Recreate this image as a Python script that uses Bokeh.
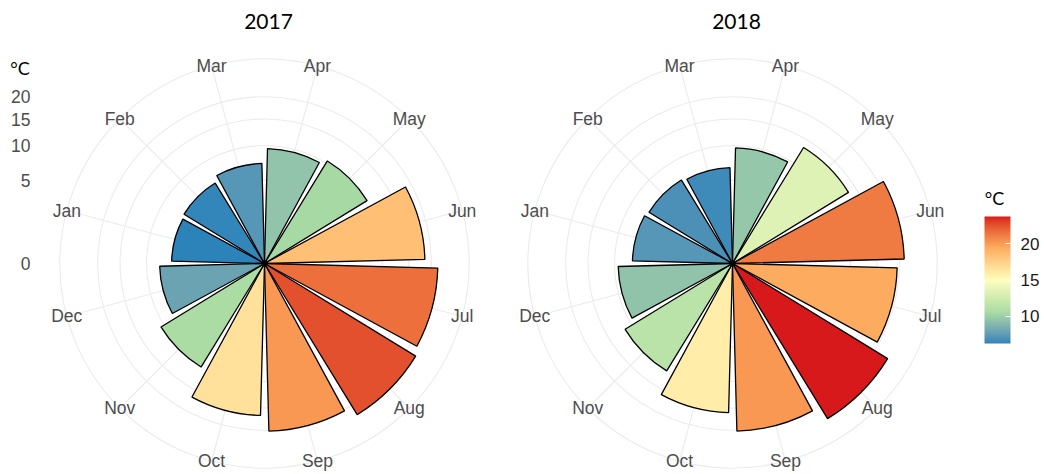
import math
from bokeh.plotting import figure
from bokeh.models import (ColumnDataSource, LinearColorMapper, ColorBar, FixedTicker,
                          Label, Range1d)
from bokeh.layouts import row
from bokeh.core.properties import value
from bokeh.transform import transform
from bokeh.embed import file_html
from bokeh.resources import INLINE

# ---------------- data ----------------
months = ["Jan", "Feb", "Mar", "Apr", "May", "Jun",
          "Jul", "Aug", "Sep", "Oct", "Nov", "Dec"]
temp_2017 = [6.2, 6.4, 7.2, 9.5, 10.4, 18.5, 21.6, 22.6, 20.2, 16.6, 10.6, 7.9]
temp_2018 = [7.2, 6.9, 6.6, 9.6, 13.3, 21.2, 19.5, 23.8, 20.2, 16.0, 11.4, 9.4]
years = ["2017", "2018"]
axis_ticks = [0, 5, 10, 15, 20]
legend_ticks = [10, 15, 20]
palette_stops = ["#2B83BA", "#ABDDA4", "#FFFFBF", "#FDAE61", "#D7191C"]

# ---------------- palette (Lab interpolation like ggplot) ----------------
def hex_to_rgb(h):
    h = h.lstrip("#")
    return [int(h[i:i + 2], 16) / 255.0 for i in (0, 2, 4)]

def srgb_to_lin(c):
    return c / 12.92 if c <= 0.04045 else ((c + 0.055) / 1.055) ** 2.4

def lin_to_srgb(c):
    c = max(0.0, min(1.0, c))
    return 12.92 * c if c <= 0.0031308 else 1.055 * c ** (1 / 2.4) - 0.055

WX, WY, WZ = 0.95047, 1.0, 1.08883

def rgb_to_lab(rgb):
    r, g, b = [srgb_to_lin(c) for c in rgb]
    X = 0.4124 * r + 0.3576 * g + 0.1805 * b
    Y = 0.2126 * r + 0.7152 * g + 0.0722 * b
    Z = 0.0193 * r + 0.1192 * g + 0.9505 * b
    def f(t):
        return t ** (1 / 3) if t > 0.008856 else 7.787 * t + 16 / 116
    fx, fy, fz = f(X / WX), f(Y / WY), f(Z / WZ)
    return [116 * fy - 16, 500 * (fx - fy), 200 * (fy - fz)]

def lab_to_hex(lab):
    L, a, bb = lab
    fy = (L + 16) / 116
    fx = fy + a / 500
    fz = fy - bb / 200
    def finv(t):
        return t ** 3 if t ** 3 > 0.008856 else (t - 16 / 116) / 7.787
    X, Y, Z = WX * finv(fx), WY * finv(fy), WZ * finv(fz)
    r = 3.2406 * X - 1.5372 * Y - 0.4986 * Z
    g = -0.9689 * X + 1.8758 * Y + 0.0415 * Z
    b = 0.0557 * X - 0.2040 * Y + 1.0570 * Z
    return "#%02x%02x%02x" % tuple(int(round(lin_to_srgb(c) * 255)) for c in (r, g, b))

labs = [rgb_to_lab(hex_to_rgb(h)) for h in palette_stops]
palette = []
N = 256
for i in range(N):
    t = i / (N - 1) * (len(labs) - 1)
    k = min(int(t), len(labs) - 2)
    u = t - k
    palette.append(lab_to_hex([labs[k][j] + (labs[k + 1][j] - labs[k][j]) * u for j in range(3)]))

all_vals = temp_2017 + temp_2018
mapper = LinearColorMapper(palette=palette, low=min(all_vals), high=max(all_vals))

# ---------------- geometry ----------------
PX = 37.3                 # pixels per sqrt-unit
H = 474
CY = 263                  # centre row (px from top)
R_OUT = 1.125 * math.sqrt(max(all_vals))   # outer ring (ggplot 0.45 / 0.40)
WIDTH_FRAC = 0.9
GRID = "#EBEBEB"
FONT = "Liberation Sans"
LBL = "17.5px"


def month_angle(i):
    return math.radians(165 - 30 * i)


def make_fig(x0, w, cx):
    p = figure(width=w, height=H, output_backend="svg", toolbar_location=None,
               x_axis_location=None, y_axis_location=None,
               x_range=Range1d((x0 - cx) / PX, (x0 + w - cx) / PX),
               y_range=Range1d(-(H - CY) / PX, CY / PX),
               min_border_left=0, min_border_right=0, min_border_top=0, min_border_bottom=0)
    p.outline_line_color = None
    p.grid.visible = False
    p.xgrid.grid_line_color = None
    p.ygrid.grid_line_color = None
    p.background_fill_color = "white"
    p.border_fill_color = "white"
    return p


def polar_panel(p, temps, year):
    p.circle(x=0, y=0, radius=[math.sqrt(v) for v in axis_ticks[1:]] + [R_OUT],
             fill_color=None, line_color=GRID, line_width=1.1)
    angs = [month_angle(i) for i in range(12)]
    p.segment(x0=[0] * 12, y0=[0] * 12,
              x1=[R_OUT * math.cos(a) for a in angs],
              y1=[R_OUT * math.sin(a) for a in angs],
              line_color=GRID, line_width=1.1)
    half = math.radians(30 * WIDTH_FRAC / 2)
    src = ColumnDataSource(dict(
        month=months, temp=temps,
        r=[math.sqrt(v) for v in temps],
        a0=[a - half for a in angs], a1=[a + half for a in angs]))
    p.wedge(x=0, y=0, radius="r", start_angle="a0", end_angle="a1", source=src,
            fill_color=transform("temp", mapper), line_color="black", line_width=1.3)
    lab = ColumnDataSource(dict(
        x=[R_OUT * math.cos(a) for a in angs],
        y=[R_OUT * math.sin(a) for a in angs], t=months))
    p.text(x="x", y="y", text="t", source=lab, text_font=value(FONT),
           text_font_size=value(LBL), text_color="#4D4D4D",
           text_align="center", text_baseline="middle")
    p.text(x=[4 / PX], y=[(CY - 21) / PX], text=[year], text_font=value("Lato"),
           text_font_size=value("21px"), text_color="black",
           text_align="center", text_baseline="middle")


# ---------------- 2017 ----------------
W1 = 498
CX1 = 264
p1 = make_fig(0, W1, CX1)
polar_panel(p1, temp_2017, years[0])
# radial scale labels (sqrt scale) and unit
p1.text(x=[(30 - CX1) / PX] * len(axis_ticks), y=[math.sqrt(v) for v in axis_ticks],
        text=[str(v) for v in axis_ticks], text_font=value(FONT),
        text_font_size=value(LBL), text_color="#4D4D4D",
        text_align="right", text_baseline="middle")
p1.text(x=[(19.5 - CX1) / PX], y=[(CY - 67) / PX], text=["°C"],
        text_font=value("Lato"), text_font_size=value("18px"), text_color="black",
        text_align="center", text_baseline="middle")

# ---------------- 2018 ----------------
X2 = 498
W2 = 1044 - X2
CX2 = 732
p2 = make_fig(X2, W2, CX2)
polar_panel(p2, temp_2018, years[1])

cb = ColorBar(color_mapper=mapper, ticker=FixedTicker(ticks=legend_ticks),
              width=26, height=127, location=(984 - X2, H - 343),
              padding=0, margin=0,
              major_label_text_font=FONT, major_label_text_font_size="17px",
              major_label_text_color="#1A1A1A", label_standoff=10,
              major_tick_line_color="white", major_tick_in=5, major_tick_out=0,
              minor_tick_line_color=None, bar_line_color=None,
              border_line_color=None, background_fill_color=None)
p2.add_layout(cb)
p2.add_layout(Label(x=(994 - CX2) / PX, y=(CY - 197) / PX, text="°C",
                    text_font="Lato", text_font_size="18px", text_color="black",
                    text_align="center", text_baseline="middle"))

layout = row(p1, p2)
open("out.html", "w").write(file_html(layout, INLINE))
